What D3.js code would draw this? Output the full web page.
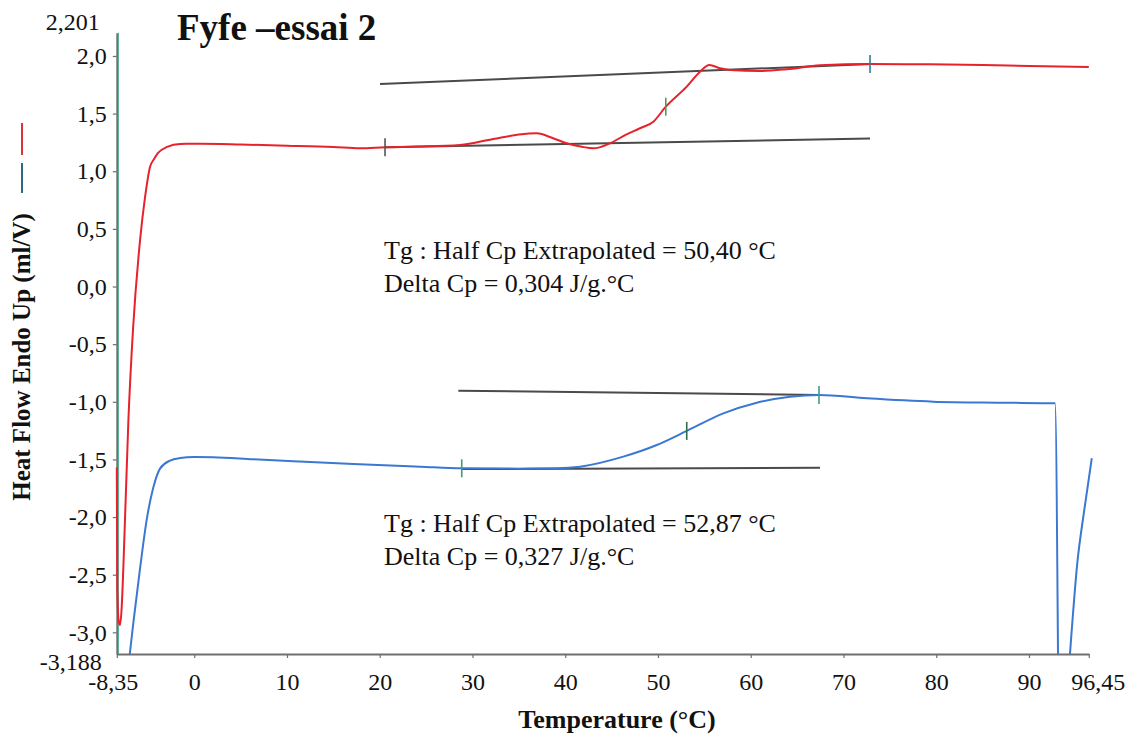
<!DOCTYPE html>
<html>
<head>
<meta charset="utf-8">
<script src="https://cdn.jsdelivr.net/npm/d3@7"></script>
<style>
  html, body { margin: 0; padding: 0; background: #fff; }
  svg { display: block; }
  text { font-family: "Liberation Serif", "Times New Roman", serif; fill: #111; }
</style>
</head>
<body>
<svg id="chart" width="1134" height="738"></svg>
<script>
// ---------- data ----------
const xDomain = [-8.35, 96.45];
const yDomain = [-3.188, 2.201];
const xTickValues = [-8.35, 0, 10, 20, 30, 40, 50, 60, 70, 80, 90, 96.45];
const xTickLabels = ["-8,35", "0", "10", "20", "30", "40", "50", "60", "70", "80", "90", "96,45"];
const yTickValues = [2.0, 1.5, 1.0, 0.5, 0.0, -0.5, -1.0, -1.5, -2.0, -2.5, -3.0];
const yTickLabels = ["2,0", "1,5", "1,0", "0,5", "0,0", "-0,5", "-1,0", "-1,5", "-2,0", "-2,5", "-3,0"];
const yEndLabels = ["2,201", "-3,188"];

// red curve (upper)
const redT = [-8.35, -8.30, -8.15, -8.0, -7.82, -7.64, -7.10, -6.60, -5.84, -5.30, -4.77, -4.33, -3.90, -2.93, -1.53, 0.6, 5, 10, 15, 17.87, 20.57, 24.0, 28.66, 32.25, 35.0, 36.93, 38.7, 40.16, 41.8, 43.03, 44.83, 46.5, 48.06, 49.5, 50.84, 53.1, 54.53, 55.54, 56.69, 57.77, 61.0, 63.88, 67.48, 72.86, 78, 85, 90, 96.45];
const redV = [-1.57, -2.60, -2.90, -2.936, -2.78, -2.43, -1.16, -0.37, 0.404, 0.777, 1.037, 1.106, 1.159, 1.211, 1.237, 1.238, 1.232, 1.222, 1.210, 1.199, 1.208, 1.214, 1.228, 1.280, 1.318, 1.329, 1.286, 1.243, 1.212, 1.199, 1.243, 1.315, 1.373, 1.430, 1.560, 1.734, 1.864, 1.922, 1.893, 1.879, 1.870, 1.885, 1.919, 1.931, 1.928, 1.922, 1.913, 1.905];
const redUpperBaseT = [20.03, 72.94];
const redUpperBaseV = [1.756, 1.931];
const redLowerBaseT = [20.57, 72.86];
const redLowerBaseV = [1.208, 1.283];
const redMarkT = [20.57, 50.84, 72.86];
const redMarkV = [1.208, 1.560, 1.931];

// blue curve (lower)
const blueT = [-6.95, -6.57, -5.85, -5.12, -4.40, -3.69, -2.61, -1.53, 0.0, 2.06, 6.37, 10.68, 17.15, 24.35, 28.84, 35.0, 39.08, 41.6, 46.26, 49.87, 53.1, 57.05, 60.65, 64.24, 67.36, 72.51, 79.69, 86.88, 92.81, 93.13];
const blueV = [-3.188, -2.92, -2.45, -2.02, -1.74, -1.58, -1.51, -1.488, -1.479, -1.481, -1.499, -1.516, -1.540, -1.563, -1.577, -1.580, -1.577, -1.563, -1.476, -1.375, -1.253, -1.100, -1.008, -0.956, -0.941, -0.970, -0.999, -1.008, -1.013, -3.188];
const blueTailT = [94.42, 95.21, 95.96, 96.77];
const blueTailV = [-3.188, -2.40, -1.94, -1.490];
const blueUpperBaseT = [28.47, 67.47];
const blueUpperBaseV = [-0.904, -0.941];
const blueLowerBaseT = [28.84, 67.47];
const blueLowerBaseV = [-1.584, -1.572];
const blueMarkT = [28.84, 53.10, 67.36];
const blueMarkV = [-1.577, -1.253, -0.941];

const titleText = "Fyfe \u2013essai 2";
const xLabel = "Temperature (\u00B0C)";
const yLabel = "Heat Flow Endo Up (ml/V)";
const redNotes = ["Tg : Half Cp Extrapolated = 50,40 \u00B0C", "Delta Cp = 0,304 J/g.\u00B0C"];
const blueNotes = ["Tg : Half Cp Extrapolated = 52,87 \u00B0C", "Delta Cp = 0,327 J/g.\u00B0C"];

// ---------- drawing ----------
const svg = d3.select("#chart");
const x = d3.scaleLinear().domain(xDomain).range([116.8, 1088.8]);
const y = d3.scaleLinear().domain(yDomain).range([654, 32.8]);

const RED = "#e8222c", BLUE = "#3a78d2", BASE = "#4a4a4a", AXIS = "#6f6f6f";

// axes
const yAxis = d3.axisLeft(y).tickValues(yTickValues)
  .tickFormat((d, i) => yTickLabels[i]).tickSize(4).tickSizeOuter(0).tickPadding(6);
const gy = svg.append("g").attr("transform", `translate(${x(xDomain[0])},0)`).call(yAxis);
gy.select(".domain").attr("stroke", AXIS).attr("stroke-width", 2);
gy.selectAll(".tick line").attr("stroke", AXIS).attr("stroke-width", 1.2);
gy.selectAll(".tick text").style("font-size", "24px").attr("fill", "#111");
// teal overlay along y axis
svg.append("line")
  .attr("x1", x(xDomain[0]) + 1.6).attr("x2", x(xDomain[0]) + 1.6)
  .attr("y1", y(yDomain[1])).attr("y2", y(yDomain[0]))
  .attr("stroke", "#35a88a").attr("stroke-width", 1.2).attr("opacity", 0.75);

const xAxis = d3.axisBottom(x).tickValues(xTickValues)
  .tickFormat((d, i) => xTickLabels[i]).tickSize(4).tickSizeOuter(0).tickPadding(15);
const gx = svg.append("g").attr("transform", `translate(0,${y(yDomain[0])})`).call(xAxis);
gx.select(".domain").attr("stroke", AXIS).attr("stroke-width", 2);
gx.selectAll(".tick line").attr("stroke", AXIS).attr("stroke-width", 1.2);
gx.selectAll(".tick text").style("font-size", "24px").attr("fill", "#111")
  .attr("dx", (d, i) => i === 0 ? -4 : (i === xTickValues.length - 1 ? 9 : 0));

// y end labels
svg.append("text").attr("x", x(xDomain[0]) - 17).attr("y", y(yDomain[1]) - 11)
  .attr("text-anchor", "end").attr("dominant-baseline", "central")
  .style("font-size", "24px").text(yEndLabels[0]);
svg.append("text").attr("x", x(xDomain[0]) - 15).attr("y", y(yDomain[0]) + 8)
  .attr("text-anchor", "end").attr("dominant-baseline", "central")
  .style("font-size", "24px").text(yEndLabels[1]);

// helpers
const line = d3.line().x(d => x(d[0])).y(d => y(d[1])).curve(d3.curveMonotoneX);
const straight = d3.line().x(d => x(d[0])).y(d => y(d[1]));
const zip = (a, b) => a.map((v, i) => [v, b[i]]);

// baselines
[[redUpperBaseT, redUpperBaseV], [redLowerBaseT, redLowerBaseV],
 [blueUpperBaseT, blueUpperBaseV], [blueLowerBaseT, blueLowerBaseV]].forEach(([t, v]) => {
  svg.append("path").attr("d", straight(zip(t, v)))
    .attr("fill", "none").attr("stroke", BASE).attr("stroke-width", 2);
});

// curves
svg.append("path").attr("d", line(zip(redT, redV)))
  .attr("fill", "none").attr("stroke", RED).attr("stroke-width", 2).attr("stroke-linejoin", "round");
svg.append("path").attr("d", line(zip(blueT, blueV)))
  .attr("fill", "none").attr("stroke", BLUE).attr("stroke-width", 2).attr("stroke-linejoin", "round");
svg.append("path").attr("d", line(zip(blueTailT, blueTailV)))
  .attr("fill", "none").attr("stroke", BLUE).attr("stroke-width", 2);

// markers
const redMarkColors = ["#555555", "#4a9a5a", "#2f7d9a"];
const blueMarkColors = ["#3f9a7a", "#2f6f4a", "#3f9a8a"];
function marks(t, v, colors) {
  svg.append("g").selectAll("line").data(zip(t, v)).join("line")
    .attr("x1", d => x(d[0])).attr("x2", d => x(d[0]))
    .attr("y1", d => y(d[1]) - 9).attr("y2", d => y(d[1]) + 9)
    .attr("stroke", (d, i) => colors[i]).attr("stroke-width", 1.6);
}
marks(redMarkT, redMarkV, redMarkColors);
marks(blueMarkT, blueMarkV, blueMarkColors);

// annotations
function notes(lines, cy) {
  svg.append("g").selectAll("text").data(lines).join("text")
    .attr("x", 384).attr("y", (d, i) => cy + i * 33)
    .attr("dominant-baseline", "central")
    .style("font-size", "26px").text(d => d);
}
notes(redNotes, 250);
notes(blueNotes, 523);

// legend marks
svg.append("line").attr("x1", 22).attr("x2", 22).attr("y1", 123).attr("y2", 155)
  .attr("stroke", "#d9343c").attr("stroke-width", 2);
svg.append("line").attr("x1", 22).attr("x2", 22).attr("y1", 163).attr("y2", 193)
  .attr("stroke", "#2b6b7f").attr("stroke-width", 2);

// title and axis titles
svg.append("text").attr("x", 177).attr("y", 40)
  .style("font-size", "37px").style("font-weight", "bold").text(titleText);
svg.append("text").attr("x", 617).attr("y", 728).attr("text-anchor", "middle")
  .style("font-size", "26px").style("font-weight", "bold").text(xLabel);
svg.append("text").attr("transform", "translate(30,357) rotate(-90)")
  .attr("text-anchor", "middle")
  .style("font-size", "25px").style("font-weight", "bold").text(yLabel);
</script>
</body>
</html>
